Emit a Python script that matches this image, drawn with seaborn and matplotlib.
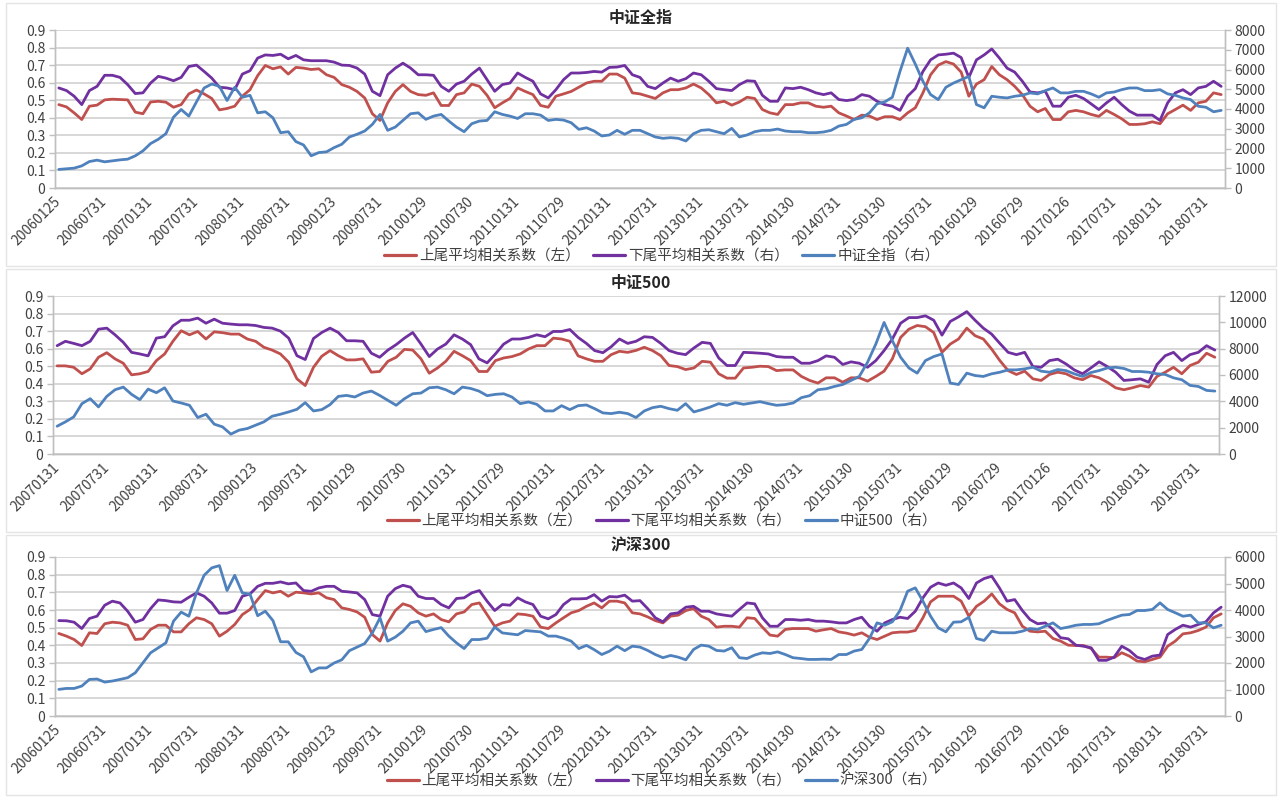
import numpy as np
import pandas as pd
import matplotlib
matplotlib.use("Agg")
import matplotlib.pyplot as plt
import matplotlib.transforms as mtransforms
import seaborn as sns
from matplotlib.lines import Line2D
from matplotlib.patches import Rectangle

sns.set_theme(style="white")
plt.rcParams["font.family"] = ["Noto Sans CJK SC", "DejaVu Sans"]
plt.rcParams["axes.unicode_minus"] = False

# ---------------- data ----------------
labels_06 = ["20060125", "20060731", "20070131", "20070731", "20080131", "20080731",
             "20090123", "20090731", "20100129", "20100730", "20110131", "20110729",
             "20120131", "20120731", "20130131", "20130731", "20140130", "20140731",
             "20150130", "20150731", "20160129", "20160729", "20170126", "20170731",
             "20180131", "20180731"]
labels_07 = labels_06[2:]

# 中证全指
zz_up = [0.475, 0.462, 0.428, 0.39, 0.466, 0.472, 0.502, 0.506, 0.504, 0.502,
         0.432, 0.423, 0.49, 0.494, 0.489, 0.46, 0.475, 0.536, 0.558, 0.536,
         0.51, 0.445, 0.453, 0.466, 0.523, 0.56, 0.64, 0.698, 0.679, 0.69,
         0.649, 0.687, 0.683, 0.675, 0.679, 0.645, 0.63, 0.589, 0.574, 0.55,
         0.513, 0.423, 0.385, 0.485, 0.55, 0.589, 0.55, 0.532, 0.528, 0.542,
         0.47, 0.47, 0.532, 0.542, 0.592, 0.579, 0.528, 0.457, 0.485, 0.51,
         0.57, 0.55, 0.532, 0.47, 0.46, 0.523, 0.536, 0.55, 0.574, 0.598,
         0.608, 0.608, 0.649, 0.649, 0.626, 0.542, 0.536, 0.523, 0.51, 0.542,
         0.56, 0.56, 0.57, 0.592, 0.57, 0.532, 0.485, 0.494, 0.472, 0.49,
         0.517, 0.51, 0.447, 0.428, 0.419, 0.475, 0.475, 0.485, 0.485, 0.466,
         0.46, 0.466, 0.428, 0.41, 0.39, 0.415, 0.41, 0.39, 0.406, 0.406,
         0.39, 0.428, 0.457, 0.542, 0.645, 0.70, 0.72, 0.706, 0.66, 0.523,
         0.592, 0.617, 0.692, 0.645, 0.617, 0.579, 0.532, 0.466, 0.434, 0.453,
         0.39, 0.39, 0.434, 0.442, 0.434, 0.419, 0.408, 0.442, 0.419, 0.394,
         0.362, 0.362, 0.366, 0.377, 0.366, 0.423, 0.447, 0.472, 0.442, 0.485,
         0.494, 0.542, 0.532]
zz_down = [0.57, 0.555, 0.523, 0.475, 0.555, 0.579, 0.642, 0.642, 0.63, 0.589,
           0.538, 0.542, 0.598, 0.636, 0.626, 0.611, 0.63, 0.692, 0.70, 0.664,
           0.626, 0.574, 0.57, 0.56, 0.649, 0.668, 0.74, 0.758, 0.755, 0.762,
           0.736, 0.755, 0.73, 0.725, 0.725, 0.725, 0.717, 0.70, 0.698, 0.683,
           0.649, 0.551, 0.526, 0.645, 0.683, 0.711, 0.683, 0.645, 0.645, 0.642,
           0.579, 0.551, 0.592, 0.608, 0.649, 0.683, 0.617, 0.551, 0.589, 0.598,
           0.655, 0.63, 0.608, 0.536, 0.513, 0.56, 0.617, 0.655, 0.655, 0.658,
           0.664, 0.66, 0.687, 0.689, 0.698, 0.645, 0.63, 0.579, 0.566, 0.598,
           0.626, 0.608, 0.623, 0.655, 0.645, 0.608, 0.566, 0.56, 0.555, 0.589,
           0.611, 0.608, 0.528, 0.494, 0.494, 0.57, 0.566, 0.574, 0.56, 0.542,
           0.532, 0.542, 0.504, 0.498, 0.504, 0.532, 0.523, 0.494, 0.475, 0.466,
           0.442, 0.523, 0.566, 0.664, 0.73, 0.758, 0.762, 0.768, 0.743, 0.63,
           0.73, 0.758, 0.792, 0.74, 0.683, 0.66, 0.608, 0.547, 0.542, 0.551,
           0.466, 0.466, 0.517, 0.528, 0.51, 0.479, 0.447, 0.485, 0.517, 0.475,
           0.438, 0.415, 0.415, 0.415, 0.385, 0.485, 0.542, 0.56, 0.532, 0.57,
           0.579, 0.608, 0.579]
zz_idx = [940, 970, 1005, 1120, 1340, 1410, 1325, 1375, 1425, 1460,
          1630, 1880, 2250, 2465, 2750, 3590, 3975, 3640, 4360, 5065,
          5265, 5150, 4430, 5100, 4595, 4695, 3805, 3860, 3555, 2800,
          2850, 2350, 2180, 1630, 1795, 1830, 2045, 2215, 2585, 2720,
          2885, 3220, 3725, 2920, 3085, 3420, 3760, 3805, 3475, 3640,
          3725, 3390, 3085, 2850, 3255, 3390, 3420, 3860, 3725, 3640,
          3520, 3760, 3760, 3690, 3420, 3475, 3440, 3305, 2970, 3050,
          2885, 2635, 2685, 2920, 2720, 2920, 2920, 2750, 2585, 2515,
          2550, 2515, 2380, 2750, 2920, 2950, 2850, 2750, 3020, 2585,
          2685, 2850, 2920, 2920, 2985, 2885, 2850, 2850, 2800, 2800,
          2835, 2920, 3135, 3220, 3475, 3555, 3805, 4260, 4360, 4595,
          5905, 7080, 6275, 5400, 4730, 4475, 5100, 5315, 5485, 5650,
          4225, 4060, 4645, 4595, 4560, 4645, 4695, 4815, 4765, 4930,
          5065, 4815, 4815, 4895, 4895, 4765, 4595, 4815, 4860, 4980,
          5065, 5065, 4930, 4930, 4980, 4765, 4695, 4560, 4475, 4140,
          4090, 3860, 3930]

# 中证500
z5_up = [0.502, 0.502, 0.494, 0.457, 0.485, 0.551, 0.577, 0.542, 0.517, 0.451,
         0.457, 0.47, 0.532, 0.57, 0.642, 0.702, 0.679, 0.698, 0.655, 0.696,
         0.691, 0.683, 0.683, 0.655, 0.642, 0.608, 0.592, 0.57, 0.523, 0.428,
         0.39, 0.494, 0.557, 0.589, 0.56, 0.536, 0.536, 0.542, 0.466, 0.47,
         0.528, 0.551, 0.596, 0.592, 0.542, 0.46, 0.49, 0.528, 0.585, 0.56,
         0.532, 0.47, 0.47, 0.532, 0.547, 0.555, 0.57, 0.598, 0.617, 0.617,
         0.66, 0.655, 0.642, 0.559, 0.542, 0.528, 0.528, 0.566, 0.585, 0.579,
         0.59, 0.608, 0.589, 0.56, 0.504, 0.498, 0.481, 0.49, 0.528, 0.523,
         0.457, 0.432, 0.432, 0.49, 0.494, 0.5, 0.498, 0.475, 0.479, 0.479,
         0.442, 0.419, 0.404, 0.434, 0.434, 0.409, 0.434, 0.434, 0.415, 0.442,
         0.472, 0.542, 0.664, 0.711, 0.732, 0.725, 0.692, 0.579, 0.626, 0.655,
         0.717, 0.674, 0.655, 0.598, 0.532, 0.475, 0.453, 0.472, 0.428, 0.419,
         0.453, 0.466, 0.457, 0.434, 0.423, 0.447, 0.434, 0.409, 0.377, 0.366,
         0.377, 0.39, 0.381, 0.442, 0.466, 0.494, 0.457, 0.504, 0.523, 0.574,
         0.551]
z5_down = [0.617, 0.642, 0.63, 0.617, 0.642, 0.711, 0.717, 0.679, 0.636, 0.579,
           0.57, 0.559, 0.66, 0.668, 0.73, 0.762, 0.762, 0.774, 0.745, 0.768,
           0.745, 0.74, 0.736, 0.736, 0.732, 0.721, 0.717, 0.70, 0.66, 0.56,
           0.538, 0.658, 0.692, 0.717, 0.692, 0.645, 0.645, 0.642, 0.574, 0.551,
           0.592, 0.623, 0.66, 0.692, 0.626, 0.555, 0.598, 0.626, 0.679, 0.655,
           0.623, 0.542, 0.519, 0.57, 0.626, 0.655, 0.655, 0.664, 0.679, 0.668,
           0.698, 0.698, 0.709, 0.664, 0.63, 0.589, 0.577, 0.611, 0.655, 0.63,
           0.642, 0.668, 0.664, 0.63, 0.589, 0.574, 0.566, 0.604, 0.636, 0.63,
           0.547, 0.504, 0.504, 0.579, 0.577, 0.574, 0.57, 0.555, 0.551, 0.551,
           0.517, 0.517, 0.532, 0.559, 0.551, 0.51, 0.525, 0.517, 0.494, 0.532,
           0.589, 0.655, 0.745, 0.777, 0.777, 0.787, 0.762, 0.677, 0.755, 0.781,
           0.811, 0.762, 0.717, 0.683, 0.63, 0.579, 0.566, 0.579, 0.498, 0.494,
           0.532, 0.54, 0.513, 0.479, 0.457, 0.49, 0.525, 0.498, 0.466, 0.419,
           0.423, 0.428, 0.409, 0.51, 0.56, 0.579, 0.532, 0.566, 0.579, 0.617,
           0.592]
z5_idx = [2110, 2440, 2815, 3825, 4200, 3575, 4375, 4880, 5080, 4530,
          4125, 4930, 4655, 5030, 4025, 3875, 3700, 2770, 3020, 2265,
          2060, 1510, 1810, 1935, 2190, 2440, 2870, 3020, 3195, 3395,
          3900, 3270, 3370, 3750, 4375, 4450, 4330, 4630, 4780, 4450,
          4075, 3700, 4200, 4575, 4630, 5030, 5080, 4880, 4575, 5080,
          4980, 4780, 4430, 4530, 4575, 4330, 3825, 3950, 3775, 3270,
          3270, 3670, 3370, 3670, 3725, 3445, 3120, 3070, 3170, 3070,
          2770, 3270, 3520, 3625, 3445, 3320, 3825, 3195, 3370, 3575,
          3825, 3700, 3900, 3775, 3875, 3975, 3825, 3700, 3750, 3875,
          4280, 4430, 4880, 4955, 5130, 5280, 5585, 5890, 6970, 8350,
          9990, 8600, 7345, 6535, 6140, 7095, 7400, 7600, 5385, 5280,
          6140, 5960, 5890, 6090, 6210, 6390, 6390, 6465, 6590, 6290,
          6210, 6415, 6335, 6090, 5890, 6185, 6335, 6535, 6590, 6495,
          6265, 6265, 6210, 6090, 6040, 5785, 5640, 5210, 5130, 4830,
          4780]

# 沪深300
hs_up = [0.467, 0.452, 0.433, 0.399, 0.471, 0.467, 0.522, 0.531, 0.527, 0.514,
         0.433, 0.437, 0.49, 0.514, 0.514, 0.476, 0.476, 0.522, 0.556, 0.546,
         0.522, 0.452, 0.48, 0.518, 0.574, 0.603, 0.659, 0.71, 0.697, 0.706,
         0.678, 0.701, 0.697, 0.691, 0.697, 0.669, 0.659, 0.612, 0.603, 0.589,
         0.559, 0.461, 0.424, 0.527, 0.597, 0.635, 0.621, 0.584, 0.565, 0.578,
         0.546, 0.533, 0.578, 0.589, 0.631, 0.64, 0.574, 0.508, 0.527, 0.537,
         0.578, 0.574, 0.565, 0.503, 0.495, 0.527, 0.556, 0.584, 0.597, 0.621,
         0.64, 0.612, 0.65, 0.65, 0.64, 0.584, 0.578, 0.561, 0.54, 0.527,
         0.565, 0.571, 0.597, 0.608, 0.565, 0.546, 0.503, 0.508, 0.508, 0.503,
         0.556, 0.552, 0.503, 0.458, 0.452, 0.49, 0.495, 0.495, 0.495, 0.48,
         0.488, 0.495, 0.476, 0.469, 0.458, 0.471, 0.446, 0.433, 0.452, 0.471,
         0.475, 0.475, 0.484, 0.556, 0.646, 0.678, 0.678, 0.678, 0.65, 0.565,
         0.621, 0.65, 0.691, 0.635, 0.603, 0.584, 0.508, 0.48, 0.476, 0.48,
         0.439, 0.424, 0.401, 0.399, 0.399, 0.382, 0.333, 0.333, 0.33, 0.358,
         0.339, 0.311, 0.307, 0.32, 0.333, 0.395, 0.424, 0.465, 0.471, 0.484,
         0.503, 0.556, 0.578]
hs_down = [0.54, 0.539, 0.531, 0.495, 0.552, 0.565, 0.627, 0.65, 0.64, 0.593,
           0.531, 0.546, 0.608, 0.657, 0.653, 0.646, 0.644, 0.672, 0.697, 0.678,
           0.64, 0.582, 0.582, 0.597, 0.678, 0.691, 0.734, 0.751, 0.751, 0.759,
           0.748, 0.753, 0.71, 0.706, 0.725, 0.734, 0.734, 0.706, 0.702, 0.697,
           0.659, 0.574, 0.565, 0.678, 0.721, 0.74, 0.729, 0.678, 0.665, 0.665,
           0.631, 0.612, 0.665, 0.669, 0.697, 0.71, 0.65, 0.597, 0.631, 0.627,
           0.669, 0.646, 0.631, 0.565, 0.55, 0.574, 0.631, 0.663, 0.663, 0.665,
           0.687, 0.65, 0.676, 0.674, 0.684, 0.65, 0.653, 0.608, 0.556, 0.533,
           0.578, 0.584, 0.616, 0.621, 0.593, 0.593, 0.578, 0.571, 0.565, 0.603,
           0.64, 0.635, 0.556, 0.508, 0.508, 0.546, 0.546, 0.542, 0.546, 0.537,
           0.537, 0.533, 0.527, 0.527, 0.546, 0.559, 0.508, 0.48, 0.527, 0.546,
           0.559, 0.552, 0.593, 0.669, 0.729, 0.753, 0.74, 0.753, 0.725, 0.665,
           0.753, 0.778, 0.791, 0.725, 0.65, 0.659, 0.597, 0.546, 0.522, 0.527,
           0.49, 0.443, 0.437, 0.401, 0.395, 0.386, 0.315, 0.315, 0.333, 0.395,
           0.371, 0.333, 0.32, 0.339, 0.345, 0.461, 0.49, 0.514, 0.503, 0.518,
           0.533, 0.584, 0.616]
hs_idx = [1005, 1040, 1040, 1130, 1380, 1395, 1280, 1320, 1380, 1445,
          1630, 2010, 2385, 2575, 2760, 3580, 3920, 3765, 4645, 5310,
          5590, 5675, 4735, 5310, 4645, 4600, 3785, 3955, 3600, 2800,
          2800, 2400, 2235, 1665, 1815, 1815, 2000, 2120, 2465, 2600,
          2735, 3135, 3705, 2825, 2975, 3200, 3515, 3580, 3185, 3265,
          3335, 3015, 2760, 2545, 2885, 2885, 2935, 3355, 3135, 3100,
          3065, 3225, 3200, 3175, 3015, 3015, 2935, 2825, 2545, 2665,
          2505, 2320, 2445, 2635, 2465, 2635, 2600, 2475, 2320, 2200,
          2285, 2220, 2120, 2510, 2675, 2635, 2475, 2450, 2575, 2200,
          2170, 2300, 2385, 2360, 2420, 2320, 2200, 2170, 2135, 2135,
          2145, 2135, 2320, 2320, 2450, 2510, 2925, 3515, 3425, 3555,
          3980, 4710, 4835, 4330, 3765, 3325, 3175, 3540, 3555, 3725,
          2925, 2850, 3200, 3140, 3140, 3140, 3200, 3300, 3265, 3390,
          3515, 3300, 3355, 3425, 3455, 3455, 3480, 3600, 3705, 3805,
          3830, 3980, 3980, 4020, 4270, 4020, 3895, 3765, 3805, 3515,
          3515, 3325, 3425]

# ---------------- style ----------------
RED = "#C0504D"
PURPLE = "#7030A0"
BLUE = "#4F81BD"
TXT = "#404040"
GRID = "#D4D4D4"
AXC = "#BFBFBF"
LW = 2.0
W, H = 1281, 798

fig = plt.figure(figsize=(W / 100, H / 100), dpi=100)
fig.patch.set_facecolor("white")


def px_rect(x0, x1, ytop, ybot):
    return [x0 / W, 1 - ybot / H, (x1 - x0) / W, (ybot - ytop) / H]


def panel(rect, title, title_y, labels, up, down, idx, idx_name, rmax, rstep, legend_y, frame):
    fig.add_artist(Rectangle((frame[0] / W, 1 - frame[3] / H), (frame[1] - frame[0]) / W,
                             (frame[3] - frame[2]) / H, transform=fig.transFigure,
                             fill=False, ec="#E4E4E4", lw=1.0))
    ax = fig.add_axes(rect)
    n = len(up)
    df = pd.DataFrame({"x": np.arange(n), "up": up, "down": down, "idx": idx})
    sns.lineplot(data=df, x="x", y="up", ax=ax, color=RED, lw=LW, legend=False)
    sns.lineplot(data=df, x="x", y="down", ax=ax, color=PURPLE, lw=LW, legend=False)
    ax2 = ax.twinx()
    sns.lineplot(data=df, x="x", y="idx", ax=ax2, color=BLUE, lw=LW, legend=False)

    for a in (ax, ax2):
        a.set_xlabel("")
        a.set_ylabel("")
        a.set_xlim(-0.5, n - 0.5)
        a.spines["top"].set_visible(False)
        for s in ("left", "right", "bottom"):
            a.spines[s].set_color(AXC)
            a.spines[s].set_linewidth(1.0)

    ax.set_ylim(0, 0.9)
    yt = np.round(np.arange(0, 0.91, 0.1), 1)
    ax.set_yticks(yt)
    ax.set_yticklabels(["0"] + [f"{v:.1f}" for v in yt[1:]])
    ax.yaxis.grid(True, color=GRID, lw=1.3)
    ax.xaxis.grid(False)
    ax.set_axisbelow(True)
    ax.tick_params(axis="y", which="major", length=4, width=1, color=AXC, direction="out",
                   labelsize=10, labelcolor=TXT, pad=3)

    ax2.set_ylim(0, rmax)
    ax2.set_yticks(np.arange(0, rmax + 1, rstep))
    ax2.tick_params(axis="y", length=4, width=1, color=AXC, direction="out",
                    labelsize=10, labelcolor=TXT, pad=3)
    ax2.grid(False)

    major = np.arange(0, n, 6)[:len(labels)]
    ax.set_xticks(major)
    ax.set_xticklabels(labels[:len(major)], rotation=45, ha="right", va="center",
                       rotation_mode="anchor", fontsize=10, color=TXT)
    offset = mtransforms.ScaledTranslation(5 / 72, 0, fig.dpi_scale_trans)
    for lab in ax.get_xticklabels():
        lab.set_transform(lab.get_transform() + offset)
    ax.set_xticks(np.arange(-0.5, n, 6), minor=True)
    ax.tick_params(axis="x", which="major", length=0, pad=8)
    ax.tick_params(axis="x", which="minor", length=5, width=1, color=AXC, direction="out")
    ax2.tick_params(axis="x", which="both", length=0)

    fig.text(0.5, 1 - title_y / H, title, ha="center", va="center", fontsize=11.5,
             fontweight="bold", color="#262626")

    handles = [Line2D([], [], color=RED, lw=LW + 0.3),
               Line2D([], [], color=PURPLE, lw=LW + 0.3),
               Line2D([], [], color=BLUE, lw=LW + 0.3)]
    names = ["上尾平均相关系数（左）", "下尾平均相关系数（右）", idx_name + "（右）"]
    fig.legend(handles, names, loc="center", bbox_to_anchor=(662 / W, 1 - legend_y / H),
               ncol=3, frameon=False, fontsize=10.5, handlelength=2.2, handletextpad=0.2,
               columnspacing=0.9, labelcolor=TXT)


panel(px_rect(55, 1225, 30, 188), "中证全指", 18, labels_06, zz_up, zz_down, zz_idx,
      "中证全指", 8000, 1000, 256, (6, 1276, 3, 266))
panel(px_rect(53, 1219, 296, 454), "中证500", 283, labels_07, z5_up, z5_down, z5_idx,
      "中证500", 12000, 2000, 521, (6, 1276, 269, 532))
panel(px_rect(55, 1225, 557, 716), "沪深300", 545, labels_06, hs_up, hs_down, hs_idx,
      "沪深300", 6000, 1000, 781, (6, 1276, 535, 795))

fig.savefig("out.png", dpi=100, facecolor="white")
